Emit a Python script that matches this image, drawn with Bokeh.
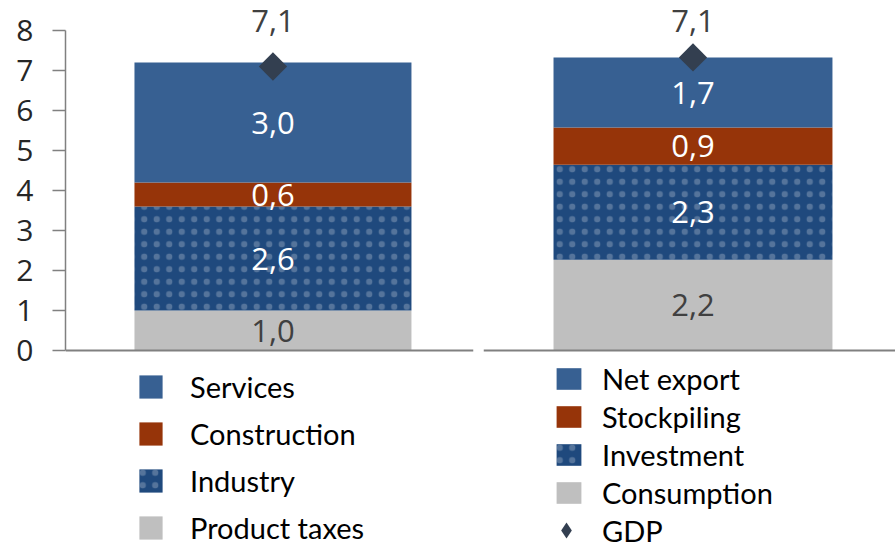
import math
from bokeh.plotting import figure
from bokeh.models import (Range1d, ColumnDataSource, Legend, LegendItem, Span,
                          FixedTicker)
from bokeh.layouts import row
from bokeh.embed import file_html
from bokeh.resources import INLINE
from bokeh.core.properties import value

# ---- data ----
prod_names = ["Product taxes", "Industry", "Construction", "Services"]
prod_values = [1.0, 2.6, 0.6, 3.0]
exp_names = ["Consumption", "Investment", "Stockpiling", "Net export"]
exp_values = [2.2, 2.3, 0.9, 1.7]
gdp_values = [7.1, 7.1]
y_ticks = [0, 1, 2, 3, 4, 5, 6, 7, 8]

# ---- style ----
seg_colors = ["#bfbfbf", "#1f497d", "#963409", "#376092"]
seg_text_colors = ["#404040", "#ffffff", "#ffffff", "#ffffff"]
gdp_color = "#333f50"
axis_color = "#808080"
NUM_FONT = "Open Sans"
LEG_FONT = "Lato"
H = 548


def fmt(v):
    return f"{v:.1f}".replace(".", ",")


def panel(names, vals, gdp, width, mb_left, mb_right, x_rng, y_rng,
          with_axis, leg_loc, leg_glyph, leg_standoff, leg_spacing,
          gdp_legend, label_offset):
    p = figure(width=width, height=H, output_backend="svg",
               toolbar_location=None, x_range=Range1d(*x_rng),
               y_range=Range1d(*y_rng),
               x_axis_location=None,
               y_axis_location="left" if with_axis else None,
               min_border_left=mb_left, min_border_right=mb_right,
               min_border_top=0, min_border_bottom=0)
    p.outline_line_color = None
    p.grid.visible = False
    p.background_fill_color = "white"

    bottoms = []
    acc = 0.0
    for v in vals:
        bottoms.append(acc)
        acc += v
    tops = [b + v for b, v in zip(bottoms, vals)]

    renderers = []
    for i, name in enumerate(names):
        src = ColumnDataSource(dict(x=[0], top=[tops[i]], bottom=[bottoms[i]]))
        kw = {}
        if i == 1:
            kw = dict(hatch_pattern="dot", hatch_color="#d0d7e2",
                      hatch_alpha=0.3, hatch_scale=12.5)
        r = p.vbar(x="x", top="top", bottom="bottom", width=1.0, source=src,
                   fill_color=seg_colors[i], line_color=None, **kw)
        renderers.append(r)

    lab_src = ColumnDataSource(dict(
        x=[0] * len(vals),
        y=[(b + t) / 2 for b, t in zip(bottoms, tops)],
        text=[fmt(v) for v in vals],
        color=seg_text_colors))
    p.text(x="x", y="y", text="text", source=lab_src, text_color="color",
           text_align="center", text_baseline="middle",
           text_font=value(NUM_FONT), text_font_size="31px")

    gsrc = ColumnDataSource(dict(x=[0], y=[gdp], text=[fmt(gdp)]))
    # legend-only diamond, hidden under the main marker
    gleg = p.scatter(x="x", y="y", source=gsrc, marker="diamond", size=18,
                     fill_color=gdp_color, line_color=None)
    p.scatter(x="x", y="y", source=gsrc, marker="square", size=20,
              angle=math.pi / 4, fill_color=gdp_color, line_color=None)
    p.text(x="x", y="y", text="text", source=gsrc, y_offset=label_offset,
           text_align="center", text_baseline="middle", text_color="#404040",
           text_font=value(NUM_FONT), text_font_size="31px")

    p.add_layout(Span(location=0, dimension="width", line_color=axis_color,
                      line_width=2))

    if with_axis:
        ax = p.yaxis[0]
        ax.ticker = FixedTicker(ticks=y_ticks)
        ax.bounds = (0, 8)
        ax.axis_line_color = axis_color
        ax.axis_line_width = 1.5
        ax.major_tick_line_color = axis_color
        ax.major_tick_line_width = 1.5
        ax.major_tick_out = 13
        ax.major_tick_in = 0
        ax.minor_tick_line_color = None
        ax.major_label_standoff = 19
        ax.major_label_text_font = NUM_FONT
        ax.major_label_text_font_size = "30px"
        ax.major_label_text_color = "#262626"

    common = dict(orientation="vertical", padding=0, margin=0,
                  border_line_color=None, background_fill_alpha=0,
                  label_text_font=LEG_FONT, label_text_font_size="29px",
                  label_text_color="#000000")
    items = [LegendItem(label=names[i], renderers=[renderers[i]])
             for i in reversed(range(len(names)))]
    leg = Legend(items=items, location=leg_loc,
                 glyph_width=leg_glyph[0], glyph_height=leg_glyph[1],
                 label_height=leg_glyph[1], label_standoff=leg_standoff,
                 spacing=leg_spacing, **common)
    p.add_layout(leg, "center")

    if gdp_legend is not None:
        loc, box, standoff = gdp_legend
        leg2 = Legend(items=[LegendItem(label="GDP", renderers=[gleg])],
                      location=loc, glyph_width=box, glyph_height=box,
                      label_height=box, label_standoff=standoff, **common)
        p.add_layout(leg2, "center")
    return p


left = panel(prod_names, prod_values, gdp_values[0], 478, 65, 5,
             (-0.749, 0.724), (-4.95, 8.75), True, (71, 3), (29, 29), 25, 12,
             None, -46)
right = panel(exp_names, exp_values, gdp_values[1], 417, 5, 0,
              (-0.751, 0.726), (-4.80, 8.48), False, (70, 38), (31, 27), 18, 3,
              ((63, -2), 40, 16), -36)

layout = row(left, right)
open("out.html", "w").write(file_html(layout, INLINE))
